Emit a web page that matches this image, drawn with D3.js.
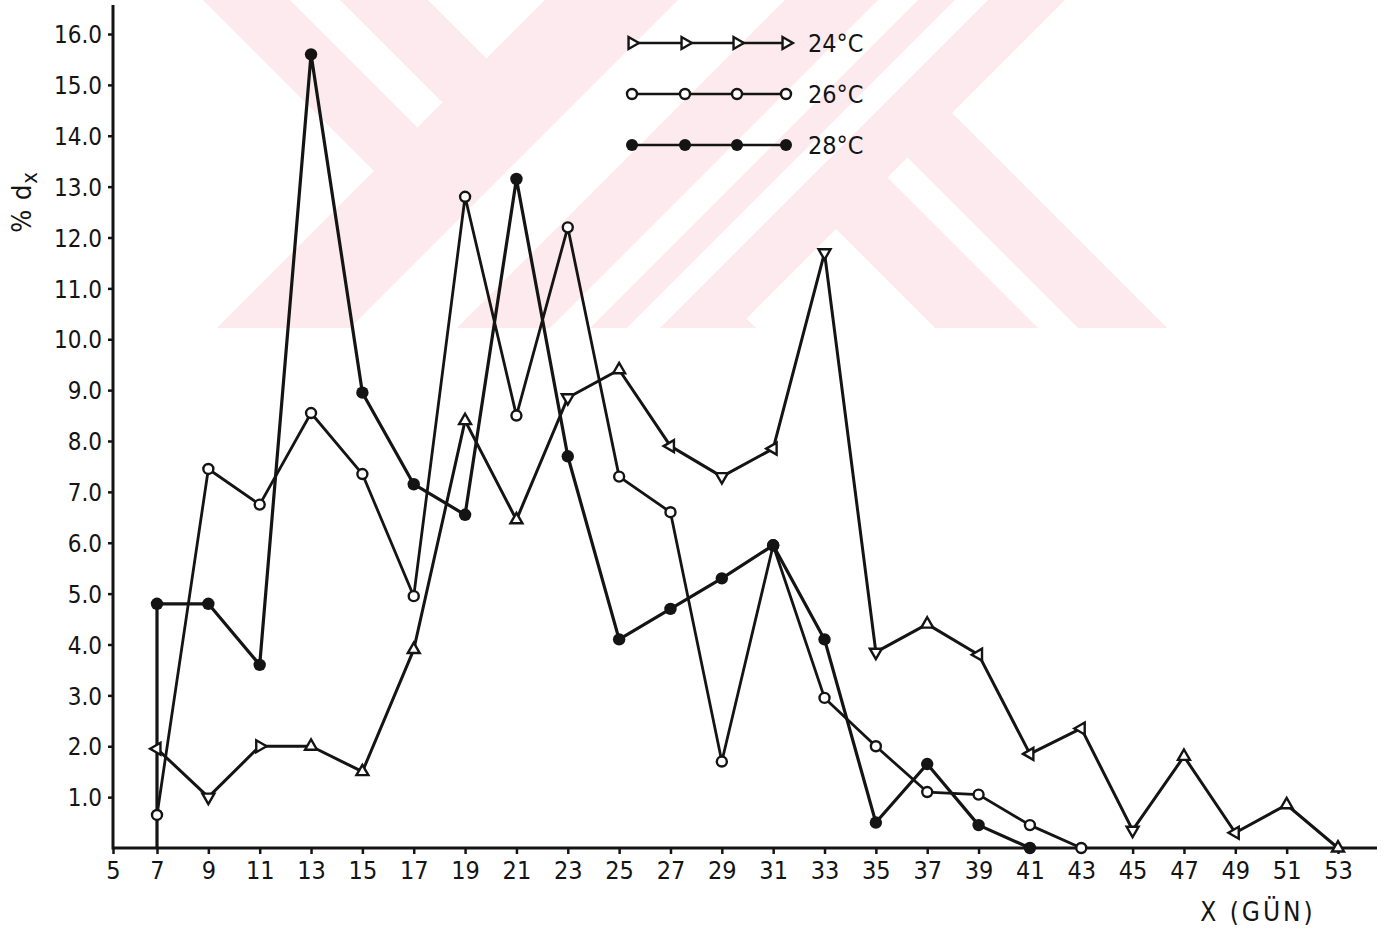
<!DOCTYPE html>
<html>
<head>
<meta charset="utf-8">
<script src="https://cdn.jsdelivr.net/npm/d3@7"></script>
<style>
  html, body { margin: 0; padding: 0; background: #fff; }
  svg { display: block; }
  text { font-family: "DejaVu Sans Condensed", "Liberation Sans Narrow", sans-serif; fill: #141414; }
</style>
</head>
<body>
<svg id="chart" width="1392" height="929"></svg>
<script>
// Percentage of deaths (% dx) per age class x (days) at three temperatures
const days24 = [7, 9, 11, 13, 15, 17, 19, 21, 23, 25, 27, 29, 31, 33, 35, 37, 39, 41, 43, 45, 47, 49, 51, 53];
const pct24  = [1.95, 1.0, 2.0, 2.0, 1.5, 3.9, 8.4, 6.45, 8.85, 9.4, 7.9, 7.3, 7.85, 11.7, 3.85, 4.4, 3.8, 1.85, 2.35, 0.35, 1.8, 0.3, 0.85, 0];

const days26 = [7, 9, 11, 13, 15, 17, 19, 21, 23, 25, 27, 29, 31, 33, 35, 37, 39, 41, 43];
const pct26  = [0.65, 7.45, 6.75, 8.55, 7.35, 4.95, 12.8, 8.5, 12.2, 7.3, 6.6, 1.7, 5.95, 2.95, 2.0, 1.1, 1.05, 0.45, 0];

const days28 = [7, 9, 11, 13, 15, 17, 19, 21, 23, 25, 27, 29, 31, 33, 35, 37, 39, 41];
const pct28  = [4.8, 4.8, 3.6, 15.6, 8.95, 7.15, 6.55, 13.15, 7.7, 4.1, 4.7, 5.3, 5.95, 4.1, 0.5, 1.65, 0.45, 0];

const xTicks = [5, 7, 9, 11, 13, 15, 17, 19, 21, 23, 25, 27, 29, 31, 33, 35, 37, 39, 41, 43, 45, 47, 49, 51, 53];
const yTicks = [1, 2, 3, 4, 5, 6, 7, 8, 9, 10, 11, 12, 13, 14, 15, 16];
const legendLabels = ["24°C", "26°C", "28°C"];

// hand-stamped triangle markers of the 24°C series do not all point the same way
const triTurn24 = [270, 180, 90, 0, 0, 0, 0, 0, 180, 0, 270, 180, 270, 180, 180, 0, 270, 270, 270, 180, 0, 270, 0, 0];

const svg = d3.select("#chart");
const ink = "#141414";

// ---- background emblem: pale pink diagonal bars, cut off at its lower edge ----
const emblemH = 328;
const pink = "#fdeaee";
svg.append("defs").append("clipPath").attr("id", "emblem-clip")
  .append("rect").attr("x", 0).attr("y", 0).attr("width", 1392).attr("height", emblemH);
const wm = svg.append("g").attr("clip-path", "url(#emblem-clip)");
// falling bars: lo <= x - y <= hi ; rising bars: lo <= x + y <= hi
const falling = (lo, hi) => [[lo, 0], [hi, 0], [hi + emblemH, emblemH], [lo + emblemH, emblemH]];
const rising  = (lo, hi) => [[lo, 0], [hi, 0], [hi - emblemH, emblemH], [lo - emblemH, emblemH]];
const poly = p => d3.line()(p) + "Z";
const fallingBars = [[203, 428], [607, 839]];
const fallingSlits = [[290, 340], [710, 750]];
const risingBar = [545, 1065];
const risingSlits = [[678, 785], [878, 918], [955, 988]];
wm.selectAll(".fb").data(fallingBars).join("path").attr("class", "fb")
  .attr("d", d => poly(falling(d[0], d[1]))).attr("fill", pink);
wm.selectAll(".fs").data(fallingSlits).join("path").attr("class", "fs")
  .attr("d", d => poly(falling(d[0], d[1]))).attr("fill", "#fff");
wm.append("path").attr("d", poly(rising(risingBar[0], risingBar[1]))).attr("fill", pink);
wm.selectAll(".rs").data(risingSlits).join("path").attr("class", "rs")
  .attr("d", d => poly(rising(d[0], d[1]))).attr("fill", "#fff");

// ---- scales ----
const x = d3.scaleLinear().domain([5, 7, 53, 54.5]).range([113, 157, 1338, 1377]);
const y = d3.scaleLinear().domain([0, 16]).range([848, 34]);
const yTop = 16.57;

// ---- axes ----
const gx = svg.append("g").attr("transform", `translate(0,${y(0)})`)
  .call(d3.axisBottom(x).tickValues(xTicks).tickSize(6).tickSizeOuter(0).tickPadding(5).tickFormat(d3.format("d")));
gx.select(".domain").remove();
gx.selectAll(".tick line").attr("stroke", ink).attr("stroke-width", 2.5);
gx.selectAll(".tick text").attr("font-size", 25).attr("fill", ink).attr("dy", "0.78em");

const gy = svg.append("g").attr("transform", `translate(${x(5)},0)`)
  .call(d3.axisLeft(y).tickValues(yTicks).tickSize(5).tickSizeOuter(0).tickPadding(6).tickFormat(d3.format(".1f")));
gy.select(".domain").remove();
gy.selectAll(".tick line").attr("stroke", ink).attr("stroke-width", 2.5);
gy.selectAll(".tick text").attr("font-size", 24).attr("fill", ink).attr("dy", "0.36em");

svg.append("line")
  .attr("x1", x(5)).attr("x2", x(54.5)).attr("y1", y(0)).attr("y2", y(0))
  .attr("stroke", ink).attr("stroke-width", 3);
svg.append("line")
  .attr("x1", x(5)).attr("x2", x(5)).attr("y1", y(0) + 1.5).attr("y2", y(yTop))
  .attr("stroke", ink).attr("stroke-width", 3);

// axis titles
const yLab = svg.append("text")
  .attr("transform", `translate(31,${y(12.7)}) rotate(-90)`)
  .attr("text-anchor", "middle").attr("font-size", 27).attr("letter-spacing", 1);
yLab.append("tspan").text("% d");
yLab.append("tspan").attr("font-size", 22).attr("dy", "0.28em").text("x");

svg.append("text")
  .attr("x", 1258).attr("y", 921).attr("text-anchor", "middle")
  .attr("font-size", 26).attr("letter-spacing", 3)
  .text("X (GÜN)");

// ---- series ----
const line = d3.line().x(d => x(d[0])).y(d => y(d[1]));
const pts24 = days24.map((d, i) => [d, pct24[i]]);
const pts26 = days26.map((d, i) => [d, pct26[i]]);
const pts28 = days28.map((d, i) => [d, pct28[i]]);

const series = svg.append("g").attr("fill", "none").attr("stroke", ink)
  .attr("stroke-linejoin", "round").attr("stroke-linecap", "round");
series.append("path").attr("d", line(pts24)).attr("stroke-width", 3);
series.append("path").attr("d", line(pts26)).attr("stroke-width", 2.8);
// the 28°C curve rises from the baseline at the first age class
series.append("path").attr("d", line([[days28[0], 0], ...pts28])).attr("stroke-width", 3.2);

const tri = d3.symbol().type(d3.symbolTriangle).size(62);

svg.append("g").selectAll("path").data(pts24).join("path")
  .attr("d", tri)
  .attr("transform", (d, i) => `translate(${x(d[0])},${y(d[1])}) rotate(${triTurn24[i]})`)
  .attr("fill", "#fff").attr("stroke", ink).attr("stroke-width", 2.4);

svg.append("g").selectAll("circle").data(pts26).join("circle")
  .attr("cx", d => x(d[0])).attr("cy", d => y(d[1])).attr("r", 5)
  .attr("fill", "#fff").attr("stroke", ink).attr("stroke-width", 2.4);

svg.append("g").selectAll("circle").data(pts28).join("circle")
  .attr("cx", d => x(d[0])).attr("cy", d => y(d[1])).attr("r", 6.2)
  .attr("fill", ink);

// ---- legend ----
const legend = svg.append("g").attr("transform", "translate(632,0)");
const legendRows = [43, 94, 145];
const legendDx = [0, 53, 105, 154];
legendLabels.forEach((lab, r) => {
  const g = legend.append("g").attr("transform", `translate(0,${legendRows[r]})`);
  g.append("line").attr("x1", legendDx[0]).attr("x2", legendDx[3])
    .attr("stroke", ink).attr("stroke-width", 2.6);
  legendDx.forEach(dx => {
    if (r === 0) {
      g.append("path").attr("d", tri).attr("transform", `translate(${dx},0) rotate(90)`)
        .attr("fill", "#fff").attr("stroke", ink).attr("stroke-width", 2.4);
    } else if (r === 1) {
      g.append("circle").attr("cx", dx).attr("r", 5).attr("fill", "#fff")
        .attr("stroke", ink).attr("stroke-width", 2.4);
    } else {
      g.append("circle").attr("cx", dx).attr("r", 6).attr("fill", ink);
    }
  });
  g.append("text").attr("x", 176).attr("y", 0).attr("dy", "0.36em")
    .attr("font-size", 25).text(lab);
});
</script>
</body>
</html>
